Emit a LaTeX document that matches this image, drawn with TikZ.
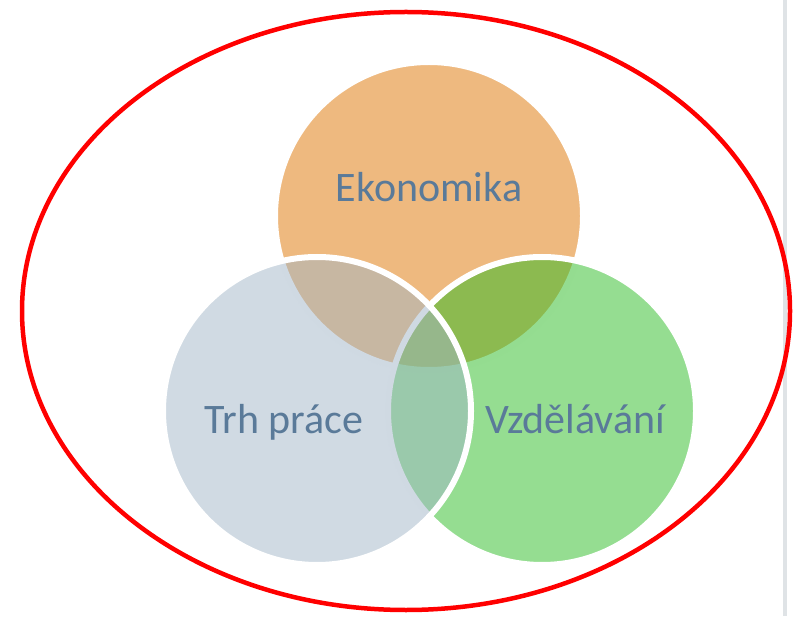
\documentclass[tikz,border=0pt]{standalone}
\usepackage{fontspec}
\setmainfont{Carlito}
\definecolor{ekocol}{RGB}{221,115,0}
\definecolor{trhcol}{RGB}{161,181,199}
\definecolor{vzdcol}{RGB}{43,187,35}
\definecolor{txtcol}{RGB}{90,122,153}
\definecolor{edgecol}{RGB}{223,227,230}
\begin{document}
\begin{tikzpicture}[x=1pt,y=1pt,
  venn/.style={draw=white,line width=6pt,fill opacity=.5},
  lbl/.style={text=txtcol,anchor=base,font=\fontsize{42}{50}\selectfont}]
\useasboundingbox (0,0) rectangle (794,616);
\draw[edgecol,line width=3.5pt] (785,0) -- (785,616);
\draw[red,line width=4.5pt] (406,305) ellipse [x radius=384,y radius=299];
%%%%
\coordinate (eko) at (429,400);
\coordinate (vzd) at (542,205);
\coordinate (trh) at (317,205);
\filldraw[venn,fill=ekocol] (eko) circle [radius=154];
\filldraw[venn,fill=vzdcol] (vzd) circle [radius=154];
\filldraw[venn,fill=trhcol] (trh) circle [radius=154];
\node[lbl] (ekolbl) at (429,414) {Ekonomika};
\node[lbl] (trhlbl) at (284,183) {Trh práce};
\node[lbl] (vzdlbl) at (575,183) {Vzdělávání};
\end{tikzpicture}
\end{document}
